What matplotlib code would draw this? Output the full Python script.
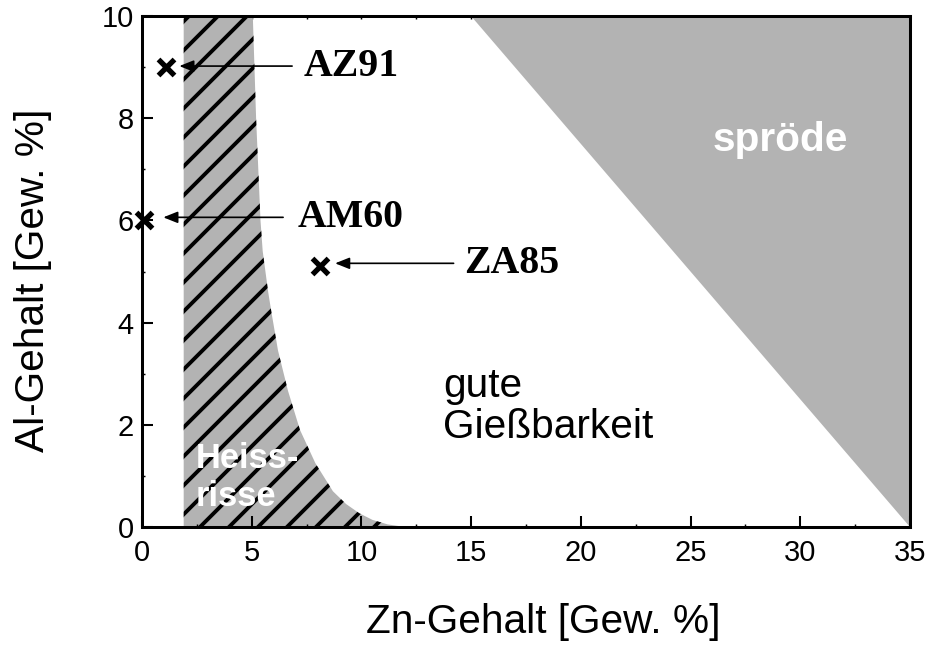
import numpy as np
import matplotlib.pyplot as plt
from matplotlib.patches import Polygon
from matplotlib.collections import LineCollection

plt.rcParams['font.family'] = ['Liberation Sans', 'DejaVu Sans']

DPI = 174
GREY = '#b3b3b3'

# Hot-crack region: left edge at constant Zn, right edge as a falling curve (Zn, Al)
hot_left_zn = 1.9
hot_curve_zn = [5.05, 5.2, 5.3, 5.4, 5.5, 5.75, 5.9, 6.2, 6.65, 7.2, 7.9, 8.7, 9.3, 9.9, 10.5, 11.2, 12.0]
hot_curve_al = [10.0, 8.0, 7.0, 6.0, 5.4, 4.6, 4.2, 3.45, 2.67, 1.9, 1.25, 0.7, 0.45, 0.27, 0.14, 0.05, 0.0]

# Brittle region (triangle in the upper right)
brittle_zn = [15, 35, 35]
brittle_al = [10, 10, 0]

# Alloys: name, Zn, Al
alloy_names = ['AZ91', 'AM60', 'ZA85']
alloy_zn = [1.1, 0.1, 8.1]
alloy_al = [9.0, 6.0, 5.1]
arrow_tail_zn = [6.84, 6.43, 14.2]
arrow_head_zn = [1.7, 0.97, 8.8]
arrow_al = [9.02, 6.06, 5.16]
label_zn = [7.38, 7.1, 14.7]

W, H = 768, 511  # axes size in pixels
fig = plt.figure(figsize=(934 / DPI, 647 / DPI), dpi=DPI)
ax = fig.add_axes([142 / 934, 1 - 527 / 647, W / 934, H / 647])

# hot cracks: grey fill with 45 degree hatching, clipped to the region
hot_pts = [(hot_left_zn, 0), (hot_left_zn, 10)] + list(zip(hot_curve_zn, hot_curve_al))
hot = Polygon(hot_pts, closed=True, facecolor=GREY, edgecolor='none', zorder=1)
ax.add_patch(hot)

step = 29  # hatch spacing in pixels
segs = [[(0, b / H), (1, (W + b) / H)] for b in np.arange(-58 - 30 * step, H, step)]
hatch = LineCollection(segs, colors='black', linewidths=1.6,
                       transform=ax.transAxes, zorder=2)
hatch.set_clip_path(hot)
ax.add_collection(hatch)

# brittle region
ax.add_patch(Polygon(list(zip(brittle_zn, brittle_al)), closed=True,
                     facecolor=GREY, edgecolor='none', zorder=1))

# alloy markers and arrows
ax.plot(alloy_zn, alloy_al, linestyle='none', marker='x', color='black',
        markersize=6.5, markeredgewidth=2.2, zorder=5, clip_on=False)
for name, tx, hx, ay, lx in zip(alloy_names, arrow_tail_zn, arrow_head_zn, arrow_al, label_zn):
    ax.annotate('', xy=(hx, ay), xytext=(tx, ay),
                arrowprops=dict(arrowstyle='-|>,head_length=0.5,head_width=0.2',
                                color='black', lw=0.7, mutation_scale=10,
                                shrinkA=0, shrinkB=0), zorder=4)
    ax.text(lx, ay, name, ha='left', va='center', fontsize=16.5,
            fontweight='bold', family='Liberation Serif', zorder=5)

# region labels
ax.text(29.1, 7.57, 'spröde', ha='center', va='center', fontsize=16.8,
        fontweight='bold', color='white', zorder=3)
ax.text(13.72, 2.36, 'gute\nGießbarkeit', ha='left', va='center',
        fontsize=16.8, linespacing=1.1, zorder=3)
ax.text(2.46, 0.97, 'Heiss-\nrisse', ha='left', va='center', fontsize=14.3,
        fontweight='bold', color='white', linespacing=1.2, zorder=3)

ax.set_xlim(0, 35)
ax.set_ylim(0, 10)
ax.set_xticks(np.arange(0, 36, 5))
ax.set_xticks(np.arange(0, 35.1, 2.5), minor=True)
ax.set_yticks(np.arange(0, 11, 2))
ax.set_yticks(np.arange(0, 10.1, 1), minor=True)
ax.tick_params(which='major', direction='in', length=4.5, width=0.85,
               labelsize=12, pad=5)
ax.tick_params(axis='y', which='major', pad=3.5)
ax.tick_params(which='minor', direction='in', length=1.3, width=0.6)
for s in ax.spines.values():
    s.set_linewidth(1.25)
    s.set_zorder(6)

# small ticks along the top and right frame
top = ax.secondary_xaxis('top')
top.set_xticks(np.arange(0, 35.1, 2.5))
top.set_xticklabels([])
top.tick_params(direction='in', length=1.3, width=0.6)
right = ax.secondary_yaxis('right')
right.set_yticks(np.arange(0, 10.1, 1))
right.set_yticklabels([])
right.tick_params(direction='in', length=1.3, width=0.6)

ax.set_xlabel('Zn-Gehalt [Gew. %]', fontsize=16.8)
ax.set_ylabel('Al-Gehalt [Gew. %]', fontsize=16.8)
ax.xaxis.label.set_verticalalignment('center')
ax.yaxis.label.set_verticalalignment('center')
ax.xaxis.set_label_coords(0.523, -0.186)
ax.yaxis.set_label_coords(-0.142, 0.483)

fig.savefig('out.png', dpi=DPI)
